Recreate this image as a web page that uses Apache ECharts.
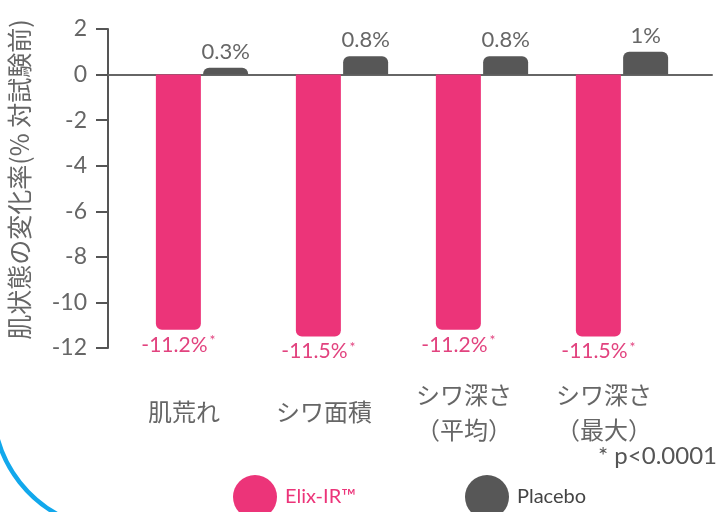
<!DOCTYPE html>
<html><head><meta charset="utf-8">
<script src="https://cdn.jsdelivr.net/npm/echarts@6/dist/echarts.min.js"></script>
<style>html,body{margin:0;padding:0;background:#fff}#c{width:720px;height:512px}</style>
</head><body><div id="c"></div>
<script>
const categories = ['肌荒れ', 'シワ面積', 'シワ深さ\n（平均）', 'シワ深さ\n（最大）'];
const elixValues = [-11.2, -11.5, -11.2, -11.5];
const placeboValues = [0.3, 0.8, 0.8, 1];
const seriesNames = ['Elix-IR™', 'Placebo'];
const yTicks = { min: -12, max: 2, interval: 2 };
const yTitle = '肌状態の変化率(% 対試験前)';
const footnote = '* p<0.0001';

const PINK = '#EC3479', GRAY = '#575757', TXT = '#666';
const chart = echarts.init(document.getElementById('c'));
chart.setOption({
  animation: false,
  grid: [
    { left: 108, right: 8, top: 29, bottom: 164, outerBoundsMode: 'none', containLabel: false },
    { left: 132, right: 28, top: 29, bottom: 164, outerBoundsMode: 'none', containLabel: false }
  ],
  xAxis: [
    { gridIndex: 0, type: 'value', min: 0, max: 1, axisLabel: { show: false }, splitLine: { show: false }, axisTick: { show: false },
      axisLine: { show: true, onZero: true, lineStyle: { color: '#666', width: 2 } } },
    { gridIndex: 1, type: 'category', data: categories, position: 'bottom',
      axisLine: { show: false, onZero: false }, axisTick: { show: false },
      axisLabel: { color: TXT, fontSize: 24, fontFamily: 'Noto Sans CJK JP', lineHeight: 35, verticalAlign: 'middle', margin: 64, padding: [0, 36, 0, 0] } }
  ],
  yAxis: [
    { gridIndex: 0, type: 'value', min: yTicks.min, max: yTicks.max, interval: yTicks.interval,
      name: yTitle, nameLocation: 'middle', nameGap: 76,
      nameTextStyle: { color: TXT, fontSize: 25, fontFamily: 'Noto Sans CJK JP', padding: [0, 0, 0, 18] },
      axisLine: { show: true, lineStyle: { color: '#555', width: 2 } },
      axisTick: { show: true, length: 12, lineStyle: { color: '#555', width: 2 } },
      axisLabel: { color: TXT, fontSize: 23, fontFamily: 'Lato', margin: 21 },
      splitLine: { show: false } },
    { gridIndex: 1, type: 'value', min: yTicks.min, max: yTicks.max, interval: yTicks.interval, show: false }
  ],
  legend: [
    { left: 228, top: 470, icon: 'circle', itemWidth: 44, itemHeight: 44, data: [seriesNames[0]],
      textStyle: { color: PINK, fontSize: 20, fontFamily: 'Lato', padding: [10, 0, 0, 3] } },
    { left: 460, top: 470, icon: 'circle', itemWidth: 44, itemHeight: 44, data: [seriesNames[1]],
      textStyle: { color: '#444', fontSize: 20, fontFamily: 'Lato', padding: [10, 0, 0, 3] } }
  ],
  series: [
    { name: seriesNames[0], type: 'bar', xAxisIndex: 1, yAxisIndex: 1, data: elixValues,
      barWidth: 45, barGap: '5%', itemStyle: { color: PINK, borderRadius: [0, 0, 6, 6] },
      label: { show: true, position: 'bottom', distance: 4,
        formatter: p => '{v|' + p.value + '%}{s|*}',
        rich: { v: { color: '#E2437F', fontSize: 21, fontFamily: 'Lato' }, s: { color: '#E2437F', fontSize: 14, fontFamily: 'Lato', verticalAlign: 'top', padding: [0, 0, 8, 2] } } } },
    { name: seriesNames[1], type: 'bar', xAxisIndex: 1, yAxisIndex: 1, data: placeboValues,
      barWidth: 45, itemStyle: { color: GRAY, borderRadius: [6, 6, 0, 0] },
      label: { show: true, position: 'top', distance: 5, color: TXT, fontSize: 22, fontFamily: 'Lato',
        formatter: p => p.value + '%' } }
  ],
  graphic: [
    { type: 'text', left: 598, top: 444, style: { text: footnote, fill: '#555', fontSize: 24, fontFamily: 'Lato' } },
    { type: 'arc', silent: true, shape: { cx: 118, cy: 405, r: 125, startAngle: 2.0, endAngle: 2.95 },
      style: { stroke: '#12A8EC', lineWidth: 4.5, fill: null } }
  ]
});
</script></body></html>
